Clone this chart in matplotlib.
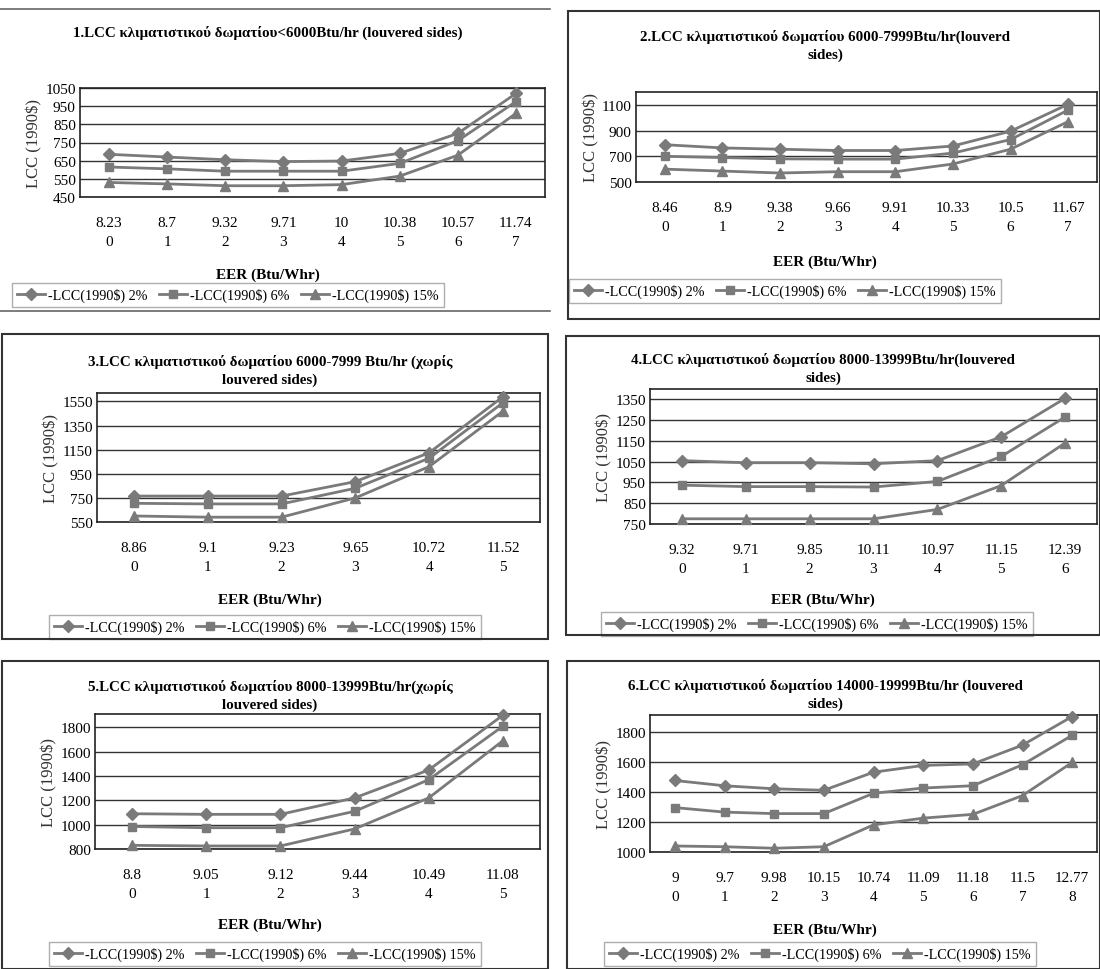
import matplotlib
matplotlib.use('Agg')
import matplotlib.pyplot as plt
from matplotlib.patches import Rectangle
from matplotlib.lines import Line2D

plt.rcParams['font.family'] = ['Liberation Serif', 'DejaVu Serif']

# data
titles = [
    '1.LCC κλιματιστικού δωματίου<6000Btu/hr (louvered sides)',
    '2.LCC κλιματιστικού δωματίου 6000-7999Btu/hr(louverd\nsides)',
    '3.LCC κλιματιστικού δωματίου 6000-7999 Btu/hr (χωρίς\nlouvered sides)',
    '4.LCC κλιματιστικού δωματίου 8000-13999Btu/hr(louvered\nsides)',
    '5.LCC κλιματιστικού δωματίου 8000-13999Btu/hr(χωρίς\nlouvered sides)',
    '6.LCC κλιματιστικού δωματίου 14000-19999Btu/hr (louvered\nsides)',
]
eer1 = ['8.23', '8.7', '9.32', '9.71', '10', '10.38', '10.57', '11.74']
eer2 = ['8.46', '8.9', '9.38', '9.66', '9.91', '10.33', '10.5', '11.67']
eer3 = ['8.86', '9.1', '9.23', '9.65', '10.72', '11.52']
eer4 = ['9.32', '9.71', '9.85', '10.11', '10.97', '11.15', '12.39']
eer5 = ['8.8', '9.05', '9.12', '9.44', '10.49', '11.08']
eer6 = ['9', '9.7', '9.98', '10.15', '10.74', '11.09', '11.18', '11.5', '12.77']

lcc1_2 = [685, 670, 655, 645, 648, 690, 800, 1020]
lcc1_6 = [615, 605, 592, 592, 592, 635, 760, 975]
lcc1_15 = [530, 522, 512, 512, 518, 565, 680, 910]

lcc2_2 = [790, 765, 755, 745, 745, 780, 895, 1105]
lcc2_6 = [700, 690, 680, 678, 678, 725, 830, 1060]
lcc2_15 = [600, 585, 570, 580, 580, 640, 755, 970]

lcc3_2 = [765, 765, 765, 885, 1125, 1590]
lcc3_6 = [705, 700, 700, 830, 1080, 1540]
lcc3_15 = [600, 590, 590, 750, 1010, 1470]

lcc4_2 = [1055, 1045, 1045, 1040, 1055, 1170, 1355]
lcc4_6 = [937, 930, 930, 928, 955, 1075, 1265]
lcc4_15 = [775, 775, 775, 775, 820, 935, 1140]

lcc5_2 = [1090, 1085, 1085, 1220, 1450, 1900]
lcc5_6 = [985, 975, 975, 1110, 1370, 1810]
lcc5_15 = [830, 825, 825, 965, 1220, 1690]

lcc6_2 = [1475, 1440, 1420, 1410, 1530, 1575, 1585, 1710, 1900]
lcc6_6 = [1295, 1265, 1255, 1255, 1390, 1425, 1440, 1580, 1775]
lcc6_15 = [1040, 1035, 1025, 1035, 1180, 1225, 1250, 1375, 1595]

series_names = ['-LCC(1990$) 2%', '-LCC(1990$) 6%', '-LCC(1990$) 15%']
ylabels = ['LCC (1990$)'] * 6

W, H = 1100, 970
fig = plt.figure(figsize=(11, 9.7), dpi=100)


def fx(x):
    return x / W


def fy(y):
    return 1 - y / H


# panel layout in pixels: plot box, frame, title y, xlabel y, legend centre
panels = [
    dict(eer=eer1, s=[lcc1_2, lcc1_6, lcc1_15], ylim=(450, 1050), ticks=range(450, 1051, 100),
         box=(80, 89, 545, 198), frame=None, ty=33, xl=275, lg=(228, 296), cx=268),
    dict(eer=eer2, s=[lcc2_2, lcc2_6, lcc2_15], ylim=(500, 1200), ticks=range(500, 1101, 200),
         box=(636, 93, 1097, 183), frame=(568, 12, 1100, 320), ty=46, xl=262, lg=(785, 292), cx=825),
    dict(eer=eer3, s=[lcc3_2, lcc3_6, lcc3_15], ylim=(550, 1620), ticks=range(550, 1551, 200),
         box=(97, 394, 540, 523), frame=(2, 335, 548, 640), ty=371, xl=600, lg=(265, 628), cx=270),
    dict(eer=eer4, s=[lcc4_2, lcc4_6, lcc4_15], ylim=(750, 1400), ticks=range(750, 1351, 100),
         box=(650, 390, 1097, 525), frame=(566, 337, 1100, 636), ty=369, xl=600, lg=(817, 625), cx=823),
    dict(eer=eer5, s=[lcc5_2, lcc5_6, lcc5_15], ylim=(800, 1910), ticks=range(800, 1801, 200),
         box=(95, 715, 540, 850), frame=(2, 662, 548, 970), ty=696, xl=925, lg=(265, 955), cx=270),
    dict(eer=eer6, s=[lcc6_2, lcc6_6, lcc6_15], ylim=(1000, 1910), ticks=range(1000, 1801, 200),
         box=(650, 716, 1097, 853), frame=(567, 662, 1100, 970), ty=695, xl=930, lg=(820, 955), cx=825),
]

markers = ['D', 's', '^']
msizes = [6, 6, 7]
gray = '#7a7a7a'

for i, p in enumerate(panels):
    x0, y0, x1, y1 = p['box']
    ax = fig.add_axes([fx(x0), fy(y1), fx(x1 - x0), (y1 - y0) / H])
    xs = range(len(p['eer']))
    for vals, m, ms, name in zip(p['s'], markers, msizes, series_names):
        ax.plot(xs, vals, color=gray, lw=2, marker=m, ms=ms, label=name, clip_on=False, zorder=3)
    ax.set_xlim(-0.5, len(p['eer']) - 0.5)
    ax.set_ylim(*p['ylim'])
    ax.set_yticks(list(p['ticks']))
    ax.yaxis.grid(True, color='#333333', lw=1)
    ax.set_axisbelow(True)
    ax.set_xticks(list(xs))
    ax.set_xticklabels([f'{e}\n{k}' for k, e in enumerate(p['eer'])], fontsize=11, linespacing=1.6)
    ax.tick_params(axis='x', length=0, labelsize=11, pad=14)
    ax.tick_params(axis='y', length=0, labelsize=11, pad=3)
    ax.set_ylabel(ylabels[i], fontsize=12, color='#333333', labelpad=2)
    for sp in ax.spines.values():
        sp.set_color('#222222')
        sp.set_linewidth(1.2)

    fig.text(fx(p['cx']), fy(p['ty']), titles[i], ha='center', va='center',
             fontsize=10.8, fontweight='bold', linespacing=1.5)
    fig.text(fx(p['cx']), fy(p['xl']), 'EER (Btu/Whr)', ha='center', va='center',
             fontsize=11, fontweight='bold')
    lx, ly = p['lg']
    leg = ax.legend(loc='center', bbox_to_anchor=(fx(lx), fy(ly)),
                    bbox_transform=fig.transFigure, ncol=3, fontsize=10.2, frameon=True,
                    fancybox=False, handlelength=2.0, columnspacing=0.8, handletextpad=0.2,
                    borderpad=0.35)
    leg.get_frame().set_edgecolor('#999999')
    leg.get_frame().set_linewidth(1)

    if p['frame'] is not None:
        a, b, c, d = p['frame']
        fig.patches.append(Rectangle((fx(a), fy(d)), fx(c - a), (d - b) / H, fill=False,
                                     ec='#333333', lw=1.5, transform=fig.transFigure))

# panel 1 has only rules above and below
fig.lines.append(Line2D([0.0, 0.5], [fy(10), fy(10)], color='#666666', lw=1.2, transform=fig.transFigure))
fig.lines.append(Line2D([0.0, 0.5], [fy(312), fy(312)], color='#666666', lw=1.2, transform=fig.transFigure))

fig.savefig('out.png', dpi=100, facecolor='white')
